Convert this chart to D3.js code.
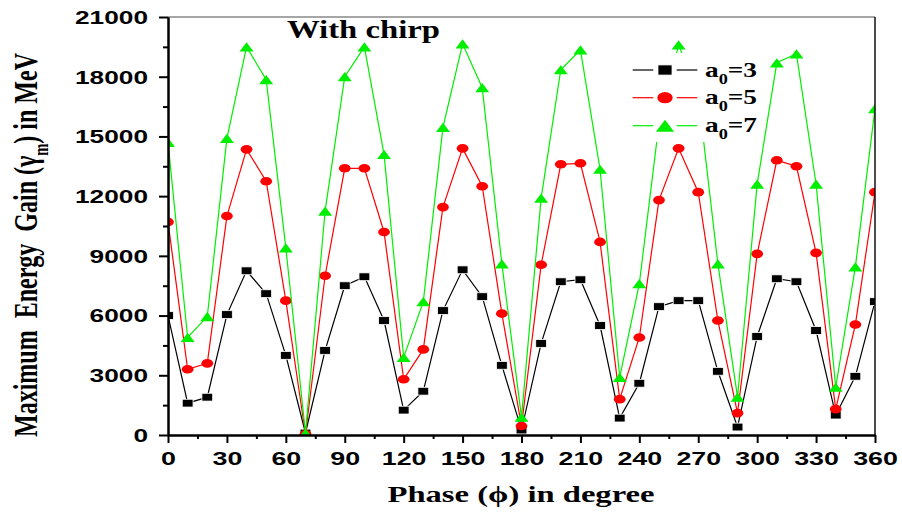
<!DOCTYPE html>
<html>
<head>
<meta charset="utf-8">
<script src="https://cdn.jsdelivr.net/npm/d3@7"></script>
<style>
  html, body { margin: 0; padding: 0; background: #fff; }
  svg { display: block; }
</style>
</head>
<body>
<svg id="chart" width="902" height="515"></svg>
<script>
// Phase angle in degrees
const phase = [0,10,20,30,40,50,60,70,80,90,100,110,120,130,140,150,160,170,180,
               190,200,210,220,230,240,250,260,270,280,290,300,310,320,330,340,350,360];

// Maximum energy gain (MeV) for each laser amplitude
const gainA3 = [6000,1600,1900,6050,8250,7100,4000,100,4250,7500,7950,5750,1250,2200,6250,8300,6950,3500,250,
                4600,7700,7800,5500,850,2600,6450,6750,6750,3200,400,4950,7850,7700,5250,1000,2950,6700];
const gainA5 = [10700,3300,3600,11000,14350,12750,6750,50,8000,13400,13400,10200,2800,4300,11450,14400,12500,6100,450,
                8550,13600,13650,9700,1800,4900,11800,14400,12200,5750,1100,9100,13800,13500,9150,1300,5550,12200];
const gainA7 = [14700,4900,5950,14900,19500,17850,9400,100,11250,18000,19500,14100,3900,6700,15450,19650,17450,8600,900,
                11900,18350,19350,13350,2900,7600,15650,19600,17100,8600,1900,12600,18700,19150,12600,2400,8450,16400];

const xTicks = [0,30,60,90,120,150,180,210,240,270,300,330,360];
const xMinorTicks = [15,45,75,105,135,165,195,225,255,285,315,345];
const yTicks = [0,3000,6000,9000,12000,15000,18000,21000];
const yMinorTicks = [1500,4500,7500,10500,13500,16500,19500];

const seriesNames = ["3", "5", "7"];

const svg = d3.select("#chart");
const plotLeft = 168, plotRight = 875, plotTop = 17, plotBottom = 435;

const x = d3.scaleLinear().domain([0, 360]).range([plotLeft, plotRight]);
const y = d3.scaleLinear().domain([0, 21000]).range([plotBottom, plotTop]);

const sansBold = "'Liberation Sans', Arial, sans-serif";
const serifBold = "'Liberation Serif', 'Times New Roman', serif";

// Plot area clip so edge markers are cut at the frame
svg.append("defs").append("clipPath").attr("id", "plotClip")
  .append("rect").attr("x", plotLeft).attr("y", plotTop - 2)
  .attr("width", plotRight - plotLeft).attr("height", plotBottom - plotTop + 2);

// Marker shapes (horizontally stretched like the rest of the figure)
const markers = {
  square: (g, cx, cy, s) => g.append("rect")
      .attr("x", cx - 5.4 * s).attr("y", cy - 3.9 * s)
      .attr("width", 10.8 * s).attr("height", 7.8 * s)
      .attr("fill", "#000").attr("stroke", "#fff").attr("stroke-width", 0.8),
  circle: (g, cx, cy, s) => g.append("ellipse")
      .attr("cx", cx).attr("cy", cy).attr("rx", 5.9 * s).attr("ry", 4.3 * s)
      .attr("fill", "#ff0000"),
  triangle: (g, cx, cy, s) => g.append("path")
      .attr("d", `M${cx - 7 * s},${cy + 4.6 * s}L${cx + 7 * s},${cy + 4.6 * s}L${cx},${cy - 4.6 * s}Z`)
      .attr("fill", "#00ee00")
};

const series = [
  { name: seriesNames[0], values: gainA3, color: "#000000", marker: "square" },
  { name: seriesNames[1], values: gainA5, color: "#ff0000", marker: "circle" },
  { name: seriesNames[2], values: gainA7, color: "#00ee00", marker: "triangle" }
];

const plot = svg.append("g").attr("clip-path", "url(#plotClip)");
const line = d3.line().x(d => x(d[0])).y(d => y(d[1]));

series.forEach(s => {
  const pts = phase.map((p, i) => [p, s.values[i]]);
  const g = plot.append("g");
  g.append("path").datum(pts)
    .attr("d", line).attr("fill", "none")
    .attr("stroke", s.color).attr("stroke-width", 1.2);
  pts.forEach(d => markers[s.marker](g, x(d[0]), y(d[1]), 1));
});

// Frame: grey top edge, black right edge
svg.append("line").attr("x1", plotLeft).attr("x2", plotRight).attr("y1", plotTop).attr("y2", plotTop)
  .attr("stroke", "#888").attr("stroke-width", 1.6);
svg.append("line").attr("x1", plotRight).attr("x2", plotRight).attr("y1", plotTop).attr("y2", plotBottom)
  .attr("stroke", "#000").attr("stroke-width", 1.4);

// Y axis
const yAxis = svg.append("g").attr("transform", `translate(${plotLeft},0)`)
  .call(d3.axisLeft(y).tickValues(yTicks).tickSize(9).tickSizeOuter(0).tickFormat(d3.format("d")));
const yMinor = svg.append("g").attr("transform", `translate(${plotLeft},0)`)
  .call(d3.axisLeft(y).tickValues(yMinorTicks).tickSize(5).tickSizeOuter(0).tickFormat(""));

// X axis
const xAxis = svg.append("g").attr("transform", `translate(0,${plotBottom})`)
  .call(d3.axisBottom(x).tickValues(xTicks).tickSize(8).tickSizeOuter(0).tickFormat(d3.format("d")));
const xMinor = svg.append("g").attr("transform", `translate(0,${plotBottom})`)
  .call(d3.axisBottom(x).tickValues(xMinorTicks).tickSize(4).tickSizeOuter(0).tickFormat(""));

[yAxis, yMinor, xAxis, xMinor].forEach(a => {
  a.select(".domain").attr("stroke", "#000").attr("stroke-width", 2);
  a.selectAll(".tick line").attr("stroke", "#000").attr("stroke-width", 2);
});

yAxis.selectAll(".tick text")
  .attr("x", 0).attr("dy", "0.36em")
  .attr("transform", "translate(-20,0) scale(1.5,1)")
  .attr("fill", "#000")
  .style("font-family", sansBold).style("font-weight", "bold").style("font-size", "17.5px");

xAxis.selectAll(".tick text")
  .attr("x", 0).attr("y", 30).attr("dy", null)
  .attr("transform", "scale(1.45,1)")
  .attr("fill", "#000")
  .style("font-family", sansBold).style("font-weight", "bold").style("font-size", "18.5px");

// Title
svg.append("text")
  .attr("x", 287).attr("y", 38)
  .attr("textLength", 153).attr("lengthAdjust", "spacingAndGlyphs")
  .style("font-family", serifBold).style("font-weight", "bold").style("font-size", "25px")
  .text("With chirp");

// X axis title
svg.append("text")
  .attr("x", 521).attr("y", 502).attr("text-anchor", "middle")
  .attr("textLength", 267).attr("lengthAdjust", "spacingAndGlyphs")
  .style("font-family", serifBold).style("font-weight", "bold").style("font-size", "24px")
  .text("Phase (\u03D5) in degree");

// Y axis title
const yTitle = svg.append("text")
  .attr("transform", "translate(37,245) rotate(-90) scale(1,1.5)")
  .attr("text-anchor", "middle")
  .attr("textLength", 384).attr("lengthAdjust", "spacingAndGlyphs")
  .style("font-family", serifBold).style("font-weight", "bold").style("font-size", "23px");
yTitle.append("tspan").text("Maximum\u00a0 Energy\u00a0 Gain (\u03B3");
yTitle.append("tspan").attr("dy", 7).style("font-size", "14px").text("m");
yTitle.append("tspan").attr("dy", -7).text(") in MeV");

// Legend
const legend = svg.append("g");
legend.append("rect").attr("x", 624).attr("y", 53).attr("width", 137).attr("height", 89).attr("fill", "#fff");
const rowY = [70, 97.7, 125.7];
series.forEach((s, i) => {
  const ry = rowY[i];
  legend.append("line").attr("x1", 632.7).attr("x2", 653.3).attr("y1", ry).attr("y2", ry)
    .attr("stroke", s.color).attr("stroke-width", 1.2);
  legend.append("line").attr("x1", 676.7).attr("x2", 697.3).attr("y1", ry).attr("y2", ry)
    .attr("stroke", s.color).attr("stroke-width", 1.2);
  markers[s.marker](legend, 665, ry, 1.3);
  const t = legend.append("text")
    .attr("x", 705).attr("y", ry + 6.7)
    .attr("textLength", 52).attr("lengthAdjust", "spacingAndGlyphs")
    .style("font-family", serifBold).style("font-weight", "bold").style("font-size", "21px");
  t.append("tspan").text("a");
  t.append("tspan").attr("dy", 7).style("font-size", "14px").text("0");
  t.append("tspan").attr("dy", -7).text("=" + s.name);
});
</script>
</body>
</html>
